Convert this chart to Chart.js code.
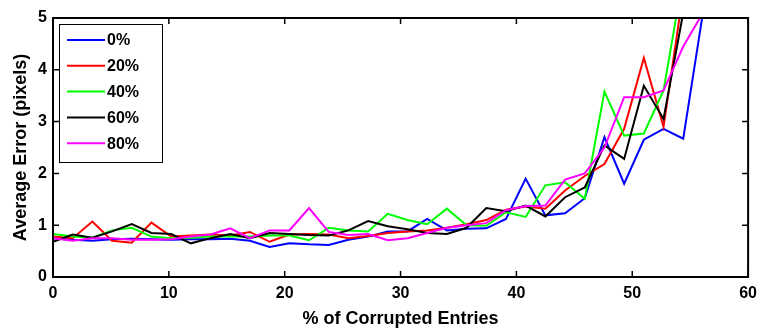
<!DOCTYPE html>
<html>
<head>
<meta charset="utf-8">
<script src="https://cdn.jsdelivr.net/npm/chart.js@4/dist/chart.umd.min.js"></script>
<style>
  html, body { margin: 0; padding: 0; background: #fff; }
  #wrap { width: 764px; height: 330px; }
</style>
</head>
<body>
<div id="wrap"><canvas id="c" width="764" height="330"></canvas></div>
<script>
// ---- data ----
const xValues = [0, 1.7, 3.4, 5.1, 6.8, 8.5, 10.2, 11.9, 13.6, 15.3, 17, 18.7, 20.4, 22.1, 23.8, 25.5, 27.2,
                 28.9, 30.6, 32.3, 34, 35.7, 37.4, 39.1, 40.8, 42.5, 44.2, 45.9, 47.6, 49.3, 51, 52.7, 54.4, 56.1];
const seriesLabels = ['0%', '20%', '40%', '60%', '80%'];
const seriesColors = ['#0000ff', '#ff0000', '#00ff00', '#000000', '#ff00ff'];
const blue  = [0.75,0.72,0.70,0.73,0.74,0.73,0.72,0.73,0.73,0.74,0.70,0.58,0.65,0.63,0.62,0.72,0.78,0.88,0.88,1.12,0.90,0.93,0.94,1.12,1.90,1.19,1.23,1.52,2.70,1.80,2.65,2.86,2.67,5.10];
const red   = [0.78,0.75,1.07,0.70,0.66,1.05,0.78,0.80,0.82,0.80,0.87,0.68,0.82,0.83,0.82,0.75,0.79,0.85,0.88,0.90,0.95,1.02,1.10,1.30,1.36,1.32,1.67,1.95,2.18,2.86,4.23,2.90,5.50,6.50];
const green = [0.83,0.78,0.76,0.90,0.95,0.78,0.75,0.76,0.78,0.78,0.78,0.80,0.80,0.71,0.95,0.90,0.88,1.22,1.10,1.02,1.32,1.00,0.99,1.25,1.16,1.77,1.83,1.51,3.58,2.73,2.77,3.60,5.80,6.50];
const black = [0.68,0.82,0.76,0.88,1.02,0.85,0.83,0.65,0.75,0.83,0.75,0.85,0.83,0.81,0.80,0.90,1.08,0.98,0.92,0.85,0.83,0.95,1.33,1.27,1.38,1.17,1.54,1.73,2.54,2.28,3.69,3.05,5.10,6.50];
const pink  = [0.75,0.70,0.75,0.75,0.72,0.72,0.73,0.78,0.82,0.94,0.75,0.90,0.90,1.33,0.87,0.81,0.83,0.71,0.75,0.85,0.95,1.00,1.04,1.29,1.37,1.38,1.88,2.00,2.50,3.47,3.47,3.60,4.45,5.10];
const xTicks = [0, 10, 20, 30, 40, 50, 60];
const yTicks = [0, 1, 2, 3, 4, 5];
const xTitle = '% of Corrupted Entries';
const yTitle = 'Average Error (pixels)';

const allSeries = [blue, red, green, black, pink];
const FONT = "'Liberation Sans', Arial, Helvetica, sans-serif";

const datasets = allSeries.map((vals, i) => ({
  label: seriesLabels[i],
  data: vals.map((v, j) => ({ x: xValues[j], y: v })),
  borderColor: seriesColors[i],
  backgroundColor: seriesColors[i],
  borderWidth: 2,
  pointRadius: 0,
  tension: 0,
  fill: false,
  order: allSeries.length - i
}));

const framePlugin = {
  id: 'frame',
  afterDatasetsDraw(chart) {
    const { ctx, chartArea: a, scales } = chart;
    ctx.save();
    ctx.strokeStyle = '#000';
    ctx.lineWidth = 2;
    ctx.strokeRect(a.left, a.top, a.right - a.left, a.bottom - a.top);
    ctx.lineWidth = 1.5;
    const tl = 6;
    ctx.beginPath();
    xTicks.forEach(v => {
      const px = scales.x.getPixelForValue(v);
      ctx.moveTo(px, a.bottom); ctx.lineTo(px, a.bottom - tl);
      ctx.moveTo(px, a.top); ctx.lineTo(px, a.top + tl);
    });
    yTicks.forEach(v => {
      const py = scales.y.getPixelForValue(v);
      ctx.moveTo(a.left, py); ctx.lineTo(a.left + tl, py);
      ctx.moveTo(a.right, py); ctx.lineTo(a.right - tl, py);
    });
    ctx.stroke();

    // legend
    const bx = a.left + 6, by = a.top + 6, bw = 103, bh = 138;
    ctx.fillStyle = '#fff';
    ctx.fillRect(bx, by, bw, bh);
    ctx.lineWidth = 1;
    ctx.strokeStyle = '#000';
    ctx.strokeRect(bx + 0.5, by + 0.5, bw, bh);
    ctx.font = 'bold 16px ' + FONT;
    ctx.textBaseline = 'middle';
    ctx.textAlign = 'left';
    chart.data.datasets.forEach((ds, i) => {
      const y = by + 16 + i * 25.8;
      ctx.strokeStyle = ds.borderColor;
      ctx.lineWidth = 2;
      ctx.beginPath();
      ctx.moveTo(bx + 8, y); ctx.lineTo(bx + 46, y);
      ctx.stroke();
      ctx.fillStyle = '#000';
      ctx.fillText(ds.label, bx + 48, y + 1);
    });
    ctx.restore();
  }
};

new Chart(document.getElementById('c'), {
  type: 'line',
  data: { datasets },
  plugins: [framePlugin],
  options: {
    responsive: false,
    animation: false,
    layout: { padding: { top: 18, right: 15, left: 0, bottom: 0 } },
    plugins: { legend: { display: false }, tooltip: { enabled: false } },
    scales: {
      x: {
        type: 'linear', min: 0, max: 60,
        afterFit: s => { s.height = 53; },
        afterBuildTicks: s => { s.ticks = xTicks.map(v => ({ value: v })); },
        grid: { display: false, drawTicks: false },
        border: { display: false },
        ticks: { color: '#000', padding: 7, maxRotation: 0, font: { family: FONT, size: 16, weight: 'bold' } },
        title: { display: true, text: xTitle, color: '#000', padding: { top: 2, bottom: 0 }, font: { family: FONT, size: 18, weight: 'bold' } }
      },
      y: {
        type: 'linear', min: 0, max: 5,
        afterFit: s => { s.width = 53; },
        afterBuildTicks: s => { s.ticks = yTicks.map(v => ({ value: v })); },
        grid: { display: false, drawTicks: false },
        border: { display: false },
        ticks: { color: '#000', padding: 6, font: { family: FONT, size: 16, weight: 'bold' } },
        title: { display: true, text: yTitle, color: '#000', padding: { top: 10, bottom: 2 }, font: { family: FONT, size: 18, weight: 'bold' } }
      }
    }
  }
});
</script>
</body>
</html>
